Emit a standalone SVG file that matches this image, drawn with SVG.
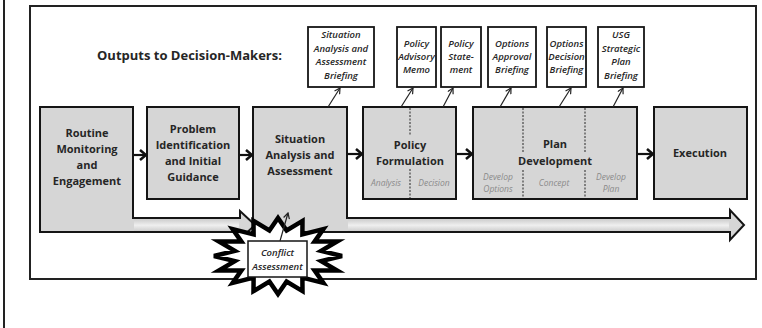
<svg xmlns="http://www.w3.org/2000/svg" width="762" height="328" viewBox="0 0 762 328">
<defs>
<style>
.box{fill:#d6d6d6;stroke:#151515;stroke-width:2}
.out{fill:#ffffff;stroke:#151515;stroke-width:1.8}
.main{font-family:"Open Sans","Liberation Sans",sans-serif;font-weight:700;font-size:11px;fill:#262626;text-anchor:middle}
.it{font-family:"Open Sans","Liberation Sans",sans-serif;font-style:italic;font-weight:600;font-size:9.5px;fill:#262626;text-anchor:middle}
.sub{font-family:"Open Sans","Liberation Sans",sans-serif;font-style:italic;font-size:8.5px;fill:#8a8a8a;text-anchor:middle}
.dot{stroke:#444;stroke-width:1.2;stroke-dasharray:2 1.5;fill:none}
.con{stroke:#111;stroke-width:2.2;fill:none}
.thin{stroke:#222;stroke-width:1.2;fill:none}
</style>
<linearGradient id="shaft" x1="0" y1="0" x2="0" y2="1">
<stop offset="0" stop-color="#cfcfcf"/>
<stop offset="0.5" stop-color="#efefef"/>
<stop offset="1" stop-color="#cfcfcf"/>
</linearGradient>
<marker id="chev" viewBox="0 0 8 12" refX="7" refY="6" markerWidth="8" markerHeight="12" markerUnits="userSpaceOnUse" orient="auto">
<path d="M1,1 L7,6 L1,11" fill="none" stroke="#111" stroke-width="2.6"/>
</marker>
<marker id="sm" viewBox="0 0 7 7" refX="6" refY="3.5" markerWidth="7" markerHeight="7" markerUnits="userSpaceOnUse" orient="auto">
<path d="M0.5,0.5 L6,3.5 L0.5,6.5" fill="none" stroke="#222" stroke-width="1.2"/>
</marker>
</defs>
<rect x="0" y="0" width="762" height="328" fill="#ffffff"/>
<line x1="4" y1="0" x2="4" y2="328" stroke="#222" stroke-width="2"/>
<rect id="frame" x="30" y="6" width="726" height="273" fill="#ffffff" stroke="#222" stroke-width="2"/>
<text x="97" y="60" font-family="'Open Sans','Liberation Sans',sans-serif" font-weight="700" font-size="13" fill="#262626">Outputs to Decision-Makers:</text>

<g id="situation">
<polygon class="box" points="253,107 347,107 347,218 730,218 730,210 744,225 730,240 730,232 253,232"/>
<rect x="348" y="219.5" width="381" height="11.5" fill="url(#shaft)"/>
<text class="main" x="300" y="143">Situation</text>
<text class="main" x="300" y="159">Analysis and</text>
<text class="main" x="300" y="175">Assessment</text>
</g>

<g id="routine">
<polygon class="box" points="40,107 133,107 133,218 240,218 240,211 255,225 240,239 240,232 40,232"/>
<rect x="134" y="219.5" width="105" height="11.5" fill="url(#shaft)"/>
<text class="main" x="87" y="137">Routine</text>
<text class="main" x="87" y="153">Monitoring</text>
<text class="main" x="87" y="169">and</text>
<text class="main" x="87" y="185">Engagement</text>
</g>

<g id="problem">
<rect class="box" x="147" y="107" width="92" height="92"/>
<text class="main" x="193" y="133">Problem</text>
<text class="main" x="193" y="149">Identification</text>
<text class="main" x="193" y="165">and Initial</text>
<text class="main" x="193" y="181">Guidance</text>
</g>

<g id="policy">
<rect class="box" x="363" y="107" width="93" height="92"/>
<path class="dot" d="M410,108 V136 M410,169 V198"/>
<text class="main" x="410" y="149">Policy</text>
<text class="main" x="410" y="165">Formulation</text>
<text class="sub" x="386" y="186">Analysis</text>
<text class="sub" x="434" y="186">Decision</text>
</g>

<g id="plan">
<rect class="box" x="473" y="107" width="164" height="92"/>
<path class="dot" d="M523,108 V152 M523,170 V198 M585,108 V152 M585,170 V198"/>
<text class="main" x="555" y="148">Plan</text>
<text class="main" x="555" y="165">Development</text>
<text class="sub" x="498" y="180">Develop</text>
<text class="sub" x="498" y="192">Options</text>
<text class="sub" x="554" y="186">Concept</text>
<text class="sub" x="611" y="180">Develop</text>
<text class="sub" x="611" y="192">Plan</text>
</g>

<g id="execution">
<rect class="box" x="654" y="107" width="93" height="92"/>
<text class="main" x="700" y="157">Execution</text>
</g>

<g id="out-situation">
<rect class="out" x="308" y="27" width="66" height="60"/>
<text class="it" x="341" y="38">Situation</text>
<text class="it" x="341" y="52">Analysis and</text>
<text class="it" x="341" y="65">Assessment</text>
<text class="it" x="341" y="79">Briefing</text>
</g>
<g id="out-memo">
<rect class="out" x="397" y="27" width="39" height="60"/>
<text class="it" x="416.5" y="47">Policy</text>
<text class="it" x="416.5" y="60">Advisory</text>
<text class="it" x="416.5" y="73">Memo</text>
</g>
<g id="out-statement">
<rect class="out" x="441" y="27" width="40" height="60"/>
<text class="it" x="461" y="47">Policy</text>
<text class="it" x="461" y="60">State-</text>
<text class="it" x="461" y="73">ment</text>
</g>
<g id="out-approval">
<rect class="out" x="488" y="27" width="48" height="60"/>
<text class="it" x="512" y="47">Options</text>
<text class="it" x="512" y="60">Approval</text>
<text class="it" x="512" y="73">Briefing</text>
</g>
<g id="out-decision">
<rect class="out" x="547" y="27" width="39" height="60"/>
<text class="it" x="566.5" y="47">Options</text>
<text class="it" x="566.5" y="60">Decision</text>
<text class="it" x="566.5" y="73">Briefing</text>
</g>
<g id="out-usg">
<rect class="out" x="598" y="27" width="46" height="60"/>
<text class="it" x="621" y="38">USG</text>
<text class="it" x="621" y="52">Strategic</text>
<text class="it" x="621" y="65">Plan</text>
<text class="it" x="621" y="79">Briefing</text>
</g>

<g id="conflict">
<polygon points="342,256 321.2,261.1 337.1,270.5 314.6,270.4 323.3,282.9 302.4,277.6 302.5,291.1 286.6,281.5 278,294 269.4,281.5 253.5,291.1 253.6,277.6 232.7,282.9 241.4,270.4 218.9,270.5 234.8,261.1 214,256 234.8,250.9 218.9,241.5 241.4,241.6 232.7,229.1 253.6,234.4 253.5,220.9 269.4,230.5 278,218 286.6,230.5 302.5,220.9 302.4,234.4 323.3,229.1 314.6,241.6 337.1,241.5 321.2,250.9" fill="#ffffff" stroke="#000" stroke-width="4.5" stroke-linejoin="miter"/>
<rect x="248" y="241" width="59" height="36" fill="#ffffff" stroke="#151515" stroke-width="1.5"/>
<text class="it" x="277.5" y="256">Conflict</text>
<text class="it" x="277.5" y="270">Assessment</text>
</g>

<g id="connectors">
<line class="con" x1="134" y1="155" x2="146" y2="155" marker-end="url(#chev)"/>
<line class="con" x1="240" y1="155" x2="252" y2="155" marker-end="url(#chev)"/>
<line class="con" x1="348" y1="154" x2="362" y2="154" marker-end="url(#chev)"/>
<line class="con" x1="457" y1="154" x2="472" y2="154" marker-end="url(#chev)"/>
<line class="con" x1="638" y1="154" x2="653" y2="154" marker-end="url(#chev)"/>
<line class="thin" x1="328" y1="107" x2="340" y2="88" marker-end="url(#sm)"/>
<line class="thin" x1="401" y1="107" x2="413" y2="88" marker-end="url(#sm)"/>
<line class="thin" x1="443" y1="107" x2="453" y2="88" marker-end="url(#sm)"/>
<line class="thin" x1="500" y1="107" x2="511" y2="88" marker-end="url(#sm)"/>
<line class="thin" x1="559" y1="107" x2="571" y2="88" marker-end="url(#sm)"/>
<line class="thin" x1="613" y1="107" x2="623" y2="88" marker-end="url(#sm)"/>
<line class="thin" x1="280" y1="241" x2="288" y2="213" marker-end="url(#sm)"/>
</g>
</svg>
